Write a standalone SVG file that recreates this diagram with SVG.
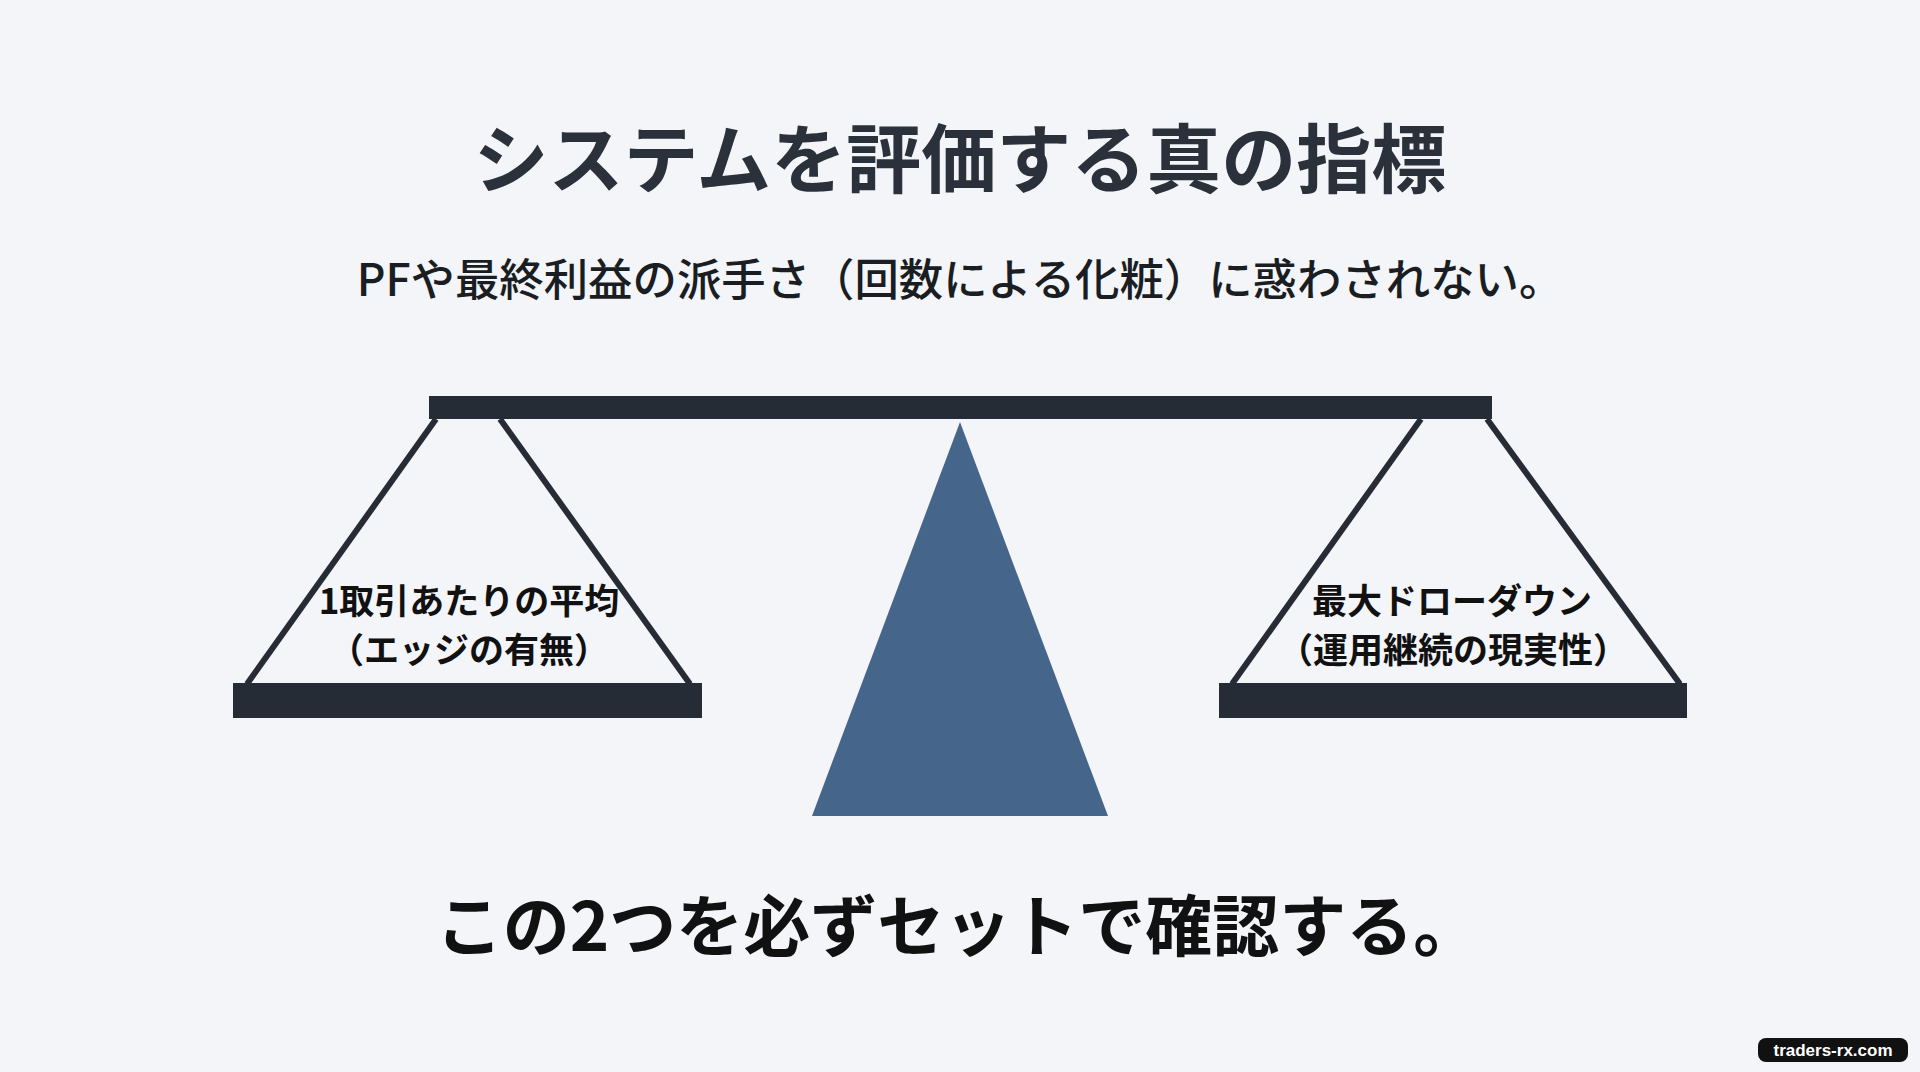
<svg xmlns="http://www.w3.org/2000/svg" width="1920" height="1072" viewBox="0 0 1920 1072">
<style>
.t{font-family:"Noto Sans CJK JP","Noto Sans",sans-serif;text-anchor:middle}
.bar{fill:#262c36}
.str{stroke:#262c36;stroke-width:6;fill:none;stroke-linecap:butt}
.lbl{font-size:35px;font-weight:700;fill:#111}
</style>
<rect width="1920" height="1072" fill="#f3f5f9"/>
<g id="title"><text class="t" x="960" y="187" font-size="75" font-weight="700" fill="#2b313b">システムを評価する真の指標</text></g>
<g id="subtitle"><text class="t" x="960" y="296" font-size="44.4" font-weight="500" fill="#1a1d22">PFや最終利益の派手さ（回数による化粧）に惑わされない。</text></g>
<g id="fulcrum"><polygon points="960,422 1108,816 812,816" fill="#46658a"/></g>
<g id="beam"><rect class="bar" x="429" y="396" width="1063" height="23"/></g>
<g id="left-pan">
<line class="str" x1="436" y1="419" x2="247" y2="684"/>
<line class="str" x1="500" y1="419" x2="690" y2="684"/>
<rect class="bar" x="233" y="683" width="469" height="35"/>
<text class="t lbl" x="469" y="614">1取引あたりの平均</text>
<text class="t lbl" x="469" y="663">（エッジの有無）</text>
</g>
<g id="right-pan">
<line class="str" x1="1421" y1="419" x2="1232" y2="684"/>
<line class="str" x1="1487" y1="419" x2="1680" y2="684"/>
<rect class="bar" x="1219" y="683" width="468" height="35"/>
<text class="t lbl" x="1452" y="614">最大ドローダウン</text>
<text class="t lbl" x="1453" y="663">（運用継続の現実性）</text>
</g>
<g id="conclusion"><text class="t" x="958" y="951" font-size="67" font-weight="700" fill="#111">この2つを必ずセットで確認する。</text></g>
<g id="watermark">
<rect x="1758" y="1038" width="150" height="24" rx="8" fill="#111"/>
<text x="1833" y="1056" font-family="Liberation Sans,Arial,sans-serif" font-size="17" font-weight="700" fill="#fff" text-anchor="middle">traders-rx.com</text>
</g>
</svg>
